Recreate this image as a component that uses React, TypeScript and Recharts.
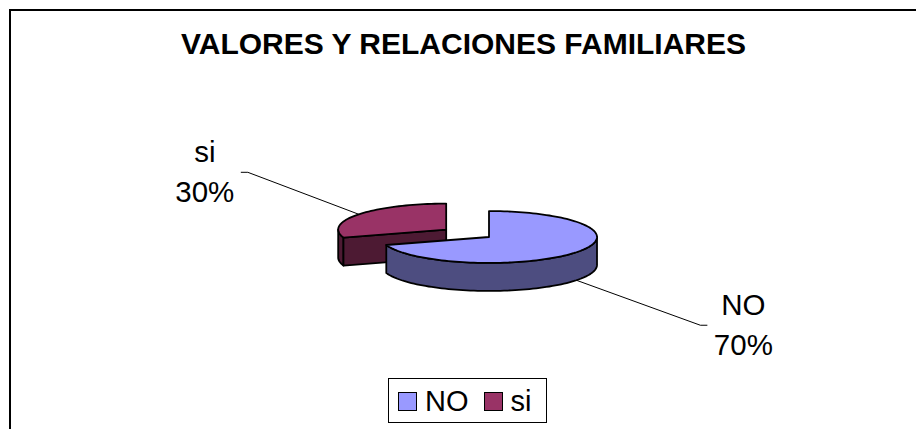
import React from 'react';
import { PieChart, Pie, Cell, Legend } from 'recharts';

const categories = ['NO', 'si'];
const values = [70, 30];
const topColors = ['#9999FF', '#993366'];
const sideColors = ['#4D4D80', '#4D1A33'];

// si is drawn first so the big NO slice sits in front of it
const drawOrder = [1, 0];
const pieData = drawOrder.map((i) => ({ name: categories[i], value: values[i] }));

const FONT = '"Liberation Sans", Arial, Helvetica, sans-serif';
const RAD = Math.PI / 180;
const TILT = 0.24; // ellipse ry / rx
const DEPTH = 28; // thickness of the 3d disc
const EXPLODE: Record<string, number> = { NO: 0, si: 0.49 };
const REACH: Record<string, [number, number]> = { NO: [124, 45], si: [-111, -42] };

type Pt = [number, number];

const arc = (cx: number, cy: number, rx: number, ry: number, a1: number, a2: number): Pt[] => {
  const pts: Pt[] = [];
  const n = Math.max(2, Math.ceil(Math.abs(a2 - a1) / 2));
  for (let k = 0; k <= n; k++) {
    const a = (a1 + ((a2 - a1) * k) / n) * RAD;
    pts.push([cx + rx * Math.cos(a), cy - ry * Math.sin(a)]);
  }
  return pts;
};

const toPath = (pts: Pt[]) => 'M' + pts.map((p) => `${p[0].toFixed(2)},${p[1].toFixed(2)}`).join('L') + 'Z';

const outline = { stroke: '#000', strokeWidth: 1.8, strokeLinejoin: 'round' as const };

// 3d slice + leader line + text, drawn from the angles recharts computed
const renderSlice = (props: any) => {
  const { cx, cy, outerRadius, startAngle, endAngle, midAngle, percent, name } = props;
  const i = categories.indexOf(name);
  const a1 = Math.min(startAngle, endAngle);
  const a2 = Math.max(startAngle, endAngle);
  const rx = outerRadius;
  const ry = outerRadius * TILT;
  const e = EXPLODE[name] ?? 0;
  const x0 = cx + e * rx * Math.cos(midAngle * RAD);
  const y0 = cy - e * ry * Math.sin(midAngle * RAD);

  const walls: string[] = [];
  for (let k = -1; k <= 2; k++) {
    const b1 = Math.max(a1, 180 + 360 * k);
    const b2 = Math.min(a2, 360 + 360 * k);
    if (b2 > b1) {
      walls.push(toPath([...arc(x0, y0, rx, ry, b1, b2), ...arc(x0, y0 + DEPTH, rx, ry, b2, b1)]));
    }
  }

  const faces: string[] = [];
  const edges: [number, boolean][] = [
    [a1, Math.cos(a1 * RAD) > 1e-6],
    [a2, Math.cos(a2 * RAD) < -1e-6],
  ];
  edges.forEach(([a, visible]) => {
    if (!visible) return;
    const px = x0 + rx * Math.cos(a * RAD);
    const py = y0 - ry * Math.sin(a * RAD);
    faces.push(toPath([[x0, y0], [px, py], [px, py + DEPTH], [x0, y0 + DEPTH]]));
  });

  const topFace = toPath([[x0, y0], ...arc(x0, y0, rx, ry, a1, a2)]);

  const s = Math.sin(midAngle * RAD);
  const ax = x0 + rx * Math.cos(midAngle * RAD);
  const ay = y0 - ry * s + (s < 0 ? DEPTH : 0);
  const [dx, dy] = REACH[name] ?? [0, 0];
  const dir = dx < 0 ? -1 : 1;
  const ex = ax + dx;
  const ey = ay + dy;
  const sx = ex + dir * 7;
  const tx = sx + dir * 36;

  return (
    <g key={`slice-${name}`}>
      {walls.map((d, k) => (
        <path key={`w${k}`} d={d} fill={sideColors[i]} {...outline} />
      ))}
      {faces.map((d, k) => (
        <path key={`f${k}`} d={d} fill={sideColors[i]} {...outline} />
      ))}
      <path d={topFace} fill={topColors[i]} {...outline} />
      <polyline points={`${ax},${ay} ${ex},${ey} ${sx},${ey}`} fill="none" stroke="#000" strokeWidth={1} />
      <text x={tx} y={ey - 10} textAnchor="middle" fontFamily={FONT} fontSize={29.5} fill="#000">
        {name}
      </text>
      <text x={tx} y={ey + 30} textAnchor="middle" fontFamily={FONT} fontSize={29.5} fill="#000">
        {`${Math.round(percent * 100)}%`}
      </text>
    </g>
  );
};

const renderLegend = (props: any) => {
  const items = [...(props.payload || [])].sort(
    (a: any, b: any) => categories.indexOf(a.value) - categories.indexOf(b.value)
  );
  return (
    <div
      style={{
        boxSizing: 'border-box',
        width: 159,
        height: 45,
        border: '1px solid #000',
        display: 'flex',
        alignItems: 'center',
        paddingLeft: 9,
        paddingTop: 2,
        fontFamily: FONT,
        fontSize: 29,
        lineHeight: '29px',
        background: '#fff',
      }}
    >
      {items.map((it: any) => (
        <div key={it.value} style={{ display: 'flex', alignItems: 'center', marginRight: 15 }}>
          <span
            style={{
              boxSizing: 'border-box',
              display: 'inline-block',
              width: 19,
              height: 19,
              border: '1.5px solid #000',
              background: topColors[categories.indexOf(it.value)],
              marginRight: 8,
            }}
          />
          <span>{it.value}</span>
        </div>
      ))}
    </div>
  );
};

export default function App() {
  return (
    <div
      style={{
        position: 'fixed',
        left: 0,
        top: 0,
        width: 916,
        height: 429,
        overflow: 'hidden',
        background: '#fff',
        fontFamily: FONT,
      }}
    >
      <div
        style={{
          position: 'absolute',
          left: 9,
          top: 9,
          width: 1200,
          height: 1200,
          border: '2px solid #000',
        }}
      />
      <div
        style={{
          position: 'absolute',
          left: 0,
          top: 29,
          width: 927,
          textAlign: 'center',
          fontSize: 30,
          lineHeight: '30px',
          fontWeight: 'bold',
          color: '#000',
        }}
      >
        VALORES Y RELACIONES FAMILIARES
      </div>
      <div style={{ position: 'absolute', left: 0, top: 0 }}>
        <PieChart width={916} height={429} margin={{ top: 0, right: 0, bottom: 0, left: 0 }}>
          <Pie
            data={pieData}
            dataKey="value"
            nameKey="name"
            cx={489}
            cy={237}
            outerRadius={108}
            startAngle={90}
            endAngle={450}
            stroke="none"
            fillOpacity={0}
            label={renderSlice}
            labelLine={false}
            isAnimationActive={false}
          >
            {pieData.map((d) => (
              <Cell key={d.name} fill={topColors[categories.indexOf(d.name)]} />
            ))}
          </Pie>
          <Legend
            verticalAlign="bottom"
            content={renderLegend}
            wrapperStyle={{ position: 'absolute', left: 388, top: 378, bottom: 'auto', right: 'auto', width: 'auto' }}
          />
        </PieChart>
      </div>
    </div>
  );
}
